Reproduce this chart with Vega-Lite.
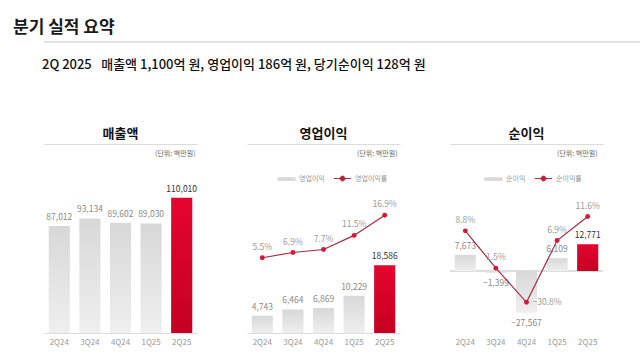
{
  "$schema": "https://vega.github.io/schema/vega-lite/v6.json",
  "background": "white",
  "padding": {"left": 10, "top": 19, "right": 8, "bottom": 4},
  "config": {
    "view": {"stroke": null},
    "font": "Noto Sans CJK KR",
    "title": {"font": "Noto Sans CJK KR"},
    "text": {"font": "Noto Sans CJK KR"}
  },
  "datasets": {
    "rev": [
      {"q": "2Q24", "v": 87012},
      {"q": "3Q24", "v": 93134},
      {"q": "4Q24", "v": 89602},
      {"q": "1Q25", "v": 89030},
      {"q": "2Q25", "v": 110010}
    ],
    "op": [
      {"q": "2Q24", "v": 4743, "r": 0.055},
      {"q": "3Q24", "v": 6464, "r": 0.069},
      {"q": "4Q24", "v": 6869, "r": 0.077},
      {"q": "1Q25", "v": 10229, "r": 0.115},
      {"q": "2Q25", "v": 18586, "r": 0.169}
    ],
    "ni": [
      {"q": "2Q24", "v": 7673, "r": 0.088},
      {"q": "3Q24", "v": -1399, "r": 0.015},
      {"q": "4Q24", "v": -27567, "r": -0.308},
      {"q": "1Q25", "v": 6109, "r": 0.069},
      {"q": "2Q25", "v": 12771, "r": 0.116}
    ]
  },
  "title": {"text": "분기 실적 요약", "anchor": "start", "fontSize": 17, "fontWeight": 600, "color": "#1a1a1a", "dx": 3, "offset": 4},
  "spacing": 16,
  "resolve": {"scale": {"stroke": "independent"}, "legend": {"stroke": "independent"}},
  "vconcat": [
    {
      "width": 620,
      "height": 1,
      "data": {"values": [{"a": 1}]},
      "mark": {"type": "rule", "color": "#d9d9d9", "strokeWidth": 1.5},
      "encoding": {"y": {"datum": 0, "type": "quantitative", "axis": null}}
    },
    {
      "title": {"text": "2Q 2025 \u2002매출액 1,100억 원, 영업이익 186억 원, 당기순이익 128억 원", "anchor": "start", "fontSize": 13, "fontWeight": 500, "color": "#111111", "dx": 32, "offset": 56},
      "spacing": 49,
      "resolve": {"scale": {"stroke": "independent"}, "legend": {"stroke": "independent"}},
      "hconcat": [
        {
          "title": {"text": "매출액", "fontSize": 13, "fontWeight": "bold", "color": "#111111", "anchor": "middle", "offset": 3},
          "width": 153,
          "height": 143,
          "data": {"name": "rev"},
          "layer": [
            {
              "mark": {"type": "bar"},
              "encoding": {
                "x": {"field": "q", "type": "nominal", "sort": null, "scale": {"paddingInner": 0.31, "paddingOuter": 0.155},
                  "axis": {"orient": "bottom", "title": null, "labelAngle": 0, "ticks": false, "domain": true, "domainColor": "#dddddd", "labelColor": "#9a9a9a", "labelFontSize": 8, "labelPadding": 5, "grid": false}},
                "y": {"field": "v", "type": "quantitative", "scale": {"domain": [0, 116260], "nice": false, "zero": false},
                  "axis": {"orient": "left", "labels": false, "ticks": false, "domain": false, "grid": false, "title": null, "minExtent": 34, "maxExtent": 34}},
                "color": {
                  "condition": {"test": "datum.q === '2Q25'", "value": {"gradient": "linear", "x1": 0, "y1": 0, "x2": 0, "y2": 1, "stops": [{"offset": 0, "color": "#e5052e"}, {"offset": 1, "color": "#c40020"}]}},
                  "value": {"gradient": "linear", "x1": 0, "y1": 0, "x2": 0, "y2": 1, "stops": [{"offset": 0, "color": "#d8d8d8"}, {"offset": 1, "color": "#efefef"}]}
                }
              }
            },
            {
              "mark": {"type": "text", "baseline": "bottom", "dy": -4, "fontSize": 8.5},
              "encoding": {
                "x": {"field": "q", "type": "nominal", "sort": null,
                  "axis": {"orient": "top", "title": "(단위: 백만원)", "labels": false, "ticks": false, "domain": true, "domainColor": "#dcdcdc", "offset": 46, "titleFontSize": 7, "titleFontWeight": "normal", "titleColor": "#666666", "titleAnchor": "end", "titleAlign": "right", "titleBaseline": "middle", "titleX": 151, "titleY": 9, "grid": false}},
                "y": {"field": "v", "type": "quantitative",
                  "axis": {"orient": "left", "labels": false, "ticks": false, "domain": false, "grid": false, "title": null, "minExtent": 34, "maxExtent": 34}},
                "text": {"field": "v", "type": "quantitative", "format": ",d"},
                "color": {"condition": {"test": "datum.q === '2Q25'", "value": "#333333"}, "value": "#8a8a8a"}
              }
            }
          ]
        },
        {
          "title": {"text": "영업이익", "fontSize": 13, "fontWeight": "bold", "color": "#111111", "anchor": "middle", "offset": 3},
          "width": 153,
          "height": 143,
          "data": {"name": "op"},
          "layer": [
            {
              "encoding": {
                "x": {"field": "q", "type": "nominal", "sort": null, "scale": {"paddingInner": 0.31, "paddingOuter": 0.155},
                  "axis": {"orient": "bottom", "title": null, "labelAngle": 0, "ticks": false, "domain": true, "domainColor": "#dddddd", "labelColor": "#9a9a9a", "labelFontSize": 8, "labelPadding": 5, "grid": false}},
                "y": {"field": "v", "type": "quantitative", "scale": {"domain": [0, 39286], "nice": false, "zero": false}, "axis": null}
              },
              "layer": [
                {
                  "mark": {"type": "bar"},
                  "encoding": {
                    "color": {
                      "condition": {"test": "datum.q === '2Q25'", "value": {"gradient": "linear", "x1": 0, "y1": 0, "x2": 0, "y2": 1, "stops": [{"offset": 0, "color": "#e5052e"}, {"offset": 1, "color": "#c40020"}]}},
                      "value": {"gradient": "linear", "x1": 0, "y1": 0, "x2": 0, "y2": 1, "stops": [{"offset": 0, "color": "#d8d8d8"}, {"offset": 1, "color": "#efefef"}]}
                    }
                  }
                },
                {
                  "mark": {"type": "text", "baseline": "bottom", "dy": -4, "fontSize": 8.5},
                  "encoding": {
                    "text": {"field": "v", "type": "quantitative", "format": ",d"},
                    "color": {"condition": {"test": "datum.q === '2Q25'", "value": "#333333"}, "value": "#8a8a8a"}
                  }
                }
              ]
            },
            {
              "encoding": {
                "x": {"field": "q", "type": "nominal", "sort": null,
                  "axis": {"orient": "top", "title": "(단위: 백만원)", "labels": false, "ticks": false, "domain": true, "domainColor": "#dcdcdc", "offset": 46, "titleFontSize": 7, "titleFontWeight": "normal", "titleColor": "#666666", "titleAnchor": "end", "titleAlign": "right", "titleBaseline": "middle", "titleX": 150, "titleY": 9, "grid": false}},
                "y": {"field": "r", "type": "quantitative", "scale": {"domain": [-0.1473, 0.237], "nice": false, "zero": false}, "axis": null}
              },
              "layer": [
                {
                  "mark": {"type": "line", "strokeWidth": 1.2},
                  "encoding": {
                    "stroke": {"datum": "영업이익률", "type": "nominal",
                      "scale": {"domain": ["영업이익", "영업이익률"], "range": ["#d9d9d9", "#a82a40"]},
                      "legend": {"orient": "none", "legendX": 30, "legendY": -21, "direction": "horizontal", "columns": 2, "title": null, "symbolSize": 300, "labelFontSize": 7, "labelColor": "#999999", "labelOffset": 3, "columnPadding": 6, "padding": 0,
                        "encode": {"symbols": {"update": {
                          "shape": {"signal": "datum.value === '영업이익률' ? 'M-1,0H1M0.28,0A0.28,0.28,0,1,1,-0.28,0A0.28,0.28,0,1,1,0.28,0Z' : 'M-1,-0.15H1V0.15H-1Z'"},
                          "fill": {"signal": "datum.value === '영업이익률' ? '#d3173a' : '#d9d9d9'"},
                          "stroke": {"signal": "datum.value === '영업이익률' ? '#a82a40' : '#d9d9d9'"},
                          "strokeWidth": {"value": 1},
                          "opacity": {"value": 1}
                        }}}}
                    }
                  }
                },
                {
                  "mark": {"type": "point", "filled": true, "size": 24, "color": "#d3173a", "opacity": 1}
                },
                {
                  "mark": {"type": "text", "baseline": "bottom", "dy": -6, "fontSize": 8.5, "color": "#9a9a9a"},
                  "encoding": {"text": {"field": "r", "type": "quantitative", "format": ".1%"}}
                }
              ]
            }
          ],
          "resolve": {"scale": {"y": "independent"}}
        },
        {
          "title": {"text": "순이익", "fontSize": 13, "fontWeight": "bold", "color": "#111111", "anchor": "middle", "offset": 3},
          "width": 153,
          "height": 143,
          "data": {"name": "ni"},
          "layer": [
            {
              "mark": {"type": "rule", "color": "#dddddd", "strokeWidth": 1},
              "encoding": {"y": {"datum": 0, "type": "quantitative", "scale": {"domain": [-41060, 0, 38571], "range": [143, 81, 0], "nice": false, "zero": false}, "axis": null}}
            },
            {
              "encoding": {
                "x": {"field": "q", "type": "nominal", "sort": null, "scale": {"paddingInner": 0.31, "paddingOuter": 0.155},
                  "axis": {"orient": "bottom", "title": null, "labelAngle": 0, "ticks": false, "domain": false, "labelColor": "#9a9a9a", "labelFontSize": 8, "labelPadding": 5, "grid": false}},
                "y": {"field": "v", "type": "quantitative", "scale": {"domain": [-41060, 0, 38571], "range": [143, 81, 0], "nice": false, "zero": false}, "axis": null}
              },
              "layer": [
                {
                  "mark": {"type": "bar"},
                  "encoding": {
                    "color": {
                      "condition": {"test": "datum.q === '2Q25'", "value": {"gradient": "linear", "x1": 0, "y1": 0, "x2": 0, "y2": 1, "stops": [{"offset": 0, "color": "#e5052e"}, {"offset": 1, "color": "#c40020"}]}},
                      "value": {"gradient": "linear", "x1": 0, "y1": 0, "x2": 0, "y2": 1, "stops": [{"offset": 0, "color": "#d8d8d8"}, {"offset": 1, "color": "#efefef"}]}
                    }
                  }
                },
                {
                  "transform": [{"filter": "datum.v > 0"}],
                  "mark": {"type": "text", "baseline": "bottom", "dy": -4, "fontSize": 8.5},
                  "encoding": {
                    "text": {"field": "v", "type": "quantitative", "format": ",d"},
                    "color": {"condition": {"test": "datum.q === '2Q25'", "value": "#333333"}, "value": "#8a8a8a"}
                  }
                },
                {
                  "transform": [{"filter": "datum.v < 0"}],
                  "mark": {"type": "text", "baseline": "top", "dy": 6, "fontSize": 8.5, "color": "#8a8a8a"},
                  "encoding": {
                    "text": {"field": "v", "type": "quantitative", "format": ",d"}
                  }
                }
              ]
            },
            {
              "encoding": {
                "x": {"field": "q", "type": "nominal", "sort": null,
                  "axis": {"orient": "top", "title": "(단위: 백만원)", "labels": false, "ticks": false, "domain": true, "domainColor": "#dcdcdc", "offset": 46, "titleFontSize": 7, "titleFontWeight": "normal", "titleColor": "#666666", "titleAnchor": "end", "titleAlign": "right", "titleBaseline": "middle", "titleX": 147, "titleY": 9, "grid": false}},
                "y": {"field": "r", "type": "quantitative", "scale": {"domain": [-0.665, 0, 0.1679], "range": [143, 85.8, 0], "nice": false, "zero": false}, "axis": null}
              },
              "layer": [
                {
                  "mark": {"type": "line", "strokeWidth": 1.2},
                  "encoding": {
                    "stroke": {"datum": "순이익률", "type": "nominal",
                      "scale": {"domain": ["순이익", "순이익률"], "range": ["#d9d9d9", "#a82a40"]},
                      "legend": {"orient": "none", "legendX": 34, "legendY": -21, "direction": "horizontal", "columns": 2, "title": null, "symbolSize": 300, "labelFontSize": 7, "labelColor": "#999999", "labelOffset": 3, "columnPadding": 6, "padding": 0,
                        "encode": {"symbols": {"update": {
                          "shape": {"signal": "datum.value === '순이익률' ? 'M-1,0H1M0.28,0A0.28,0.28,0,1,1,-0.28,0A0.28,0.28,0,1,1,0.28,0Z' : 'M-1,-0.15H1V0.15H-1Z'"},
                          "fill": {"signal": "datum.value === '순이익률' ? '#d3173a' : '#d9d9d9'"},
                          "stroke": {"signal": "datum.value === '순이익률' ? '#a82a40' : '#d9d9d9'"},
                          "strokeWidth": {"value": 1},
                          "opacity": {"value": 1}
                        }}}}
                    }
                  }
                },
                {
                  "mark": {"type": "point", "filled": true, "size": 24, "color": "#d3173a", "opacity": 1}
                },
                {
                  "transform": [{"filter": "datum.r > 0"}],
                  "mark": {"type": "text", "baseline": "bottom", "dy": -6, "fontSize": 8.5, "color": "#9a9a9a"},
                  "encoding": {"text": {"field": "r", "type": "quantitative", "format": ".1%"}}
                },
                {
                  "transform": [{"filter": "datum.r < 0"}],
                  "mark": {"type": "text", "baseline": "middle", "align": "left", "dx": 6, "fontSize": 8.5, "color": "#9a9a9a"},
                  "encoding": {"text": {"field": "r", "type": "quantitative", "format": ".1%"}}
                }
              ]
            }
          ],
          "resolve": {"scale": {"y": "independent"}}
        }
      ]
    }
  ]
}
